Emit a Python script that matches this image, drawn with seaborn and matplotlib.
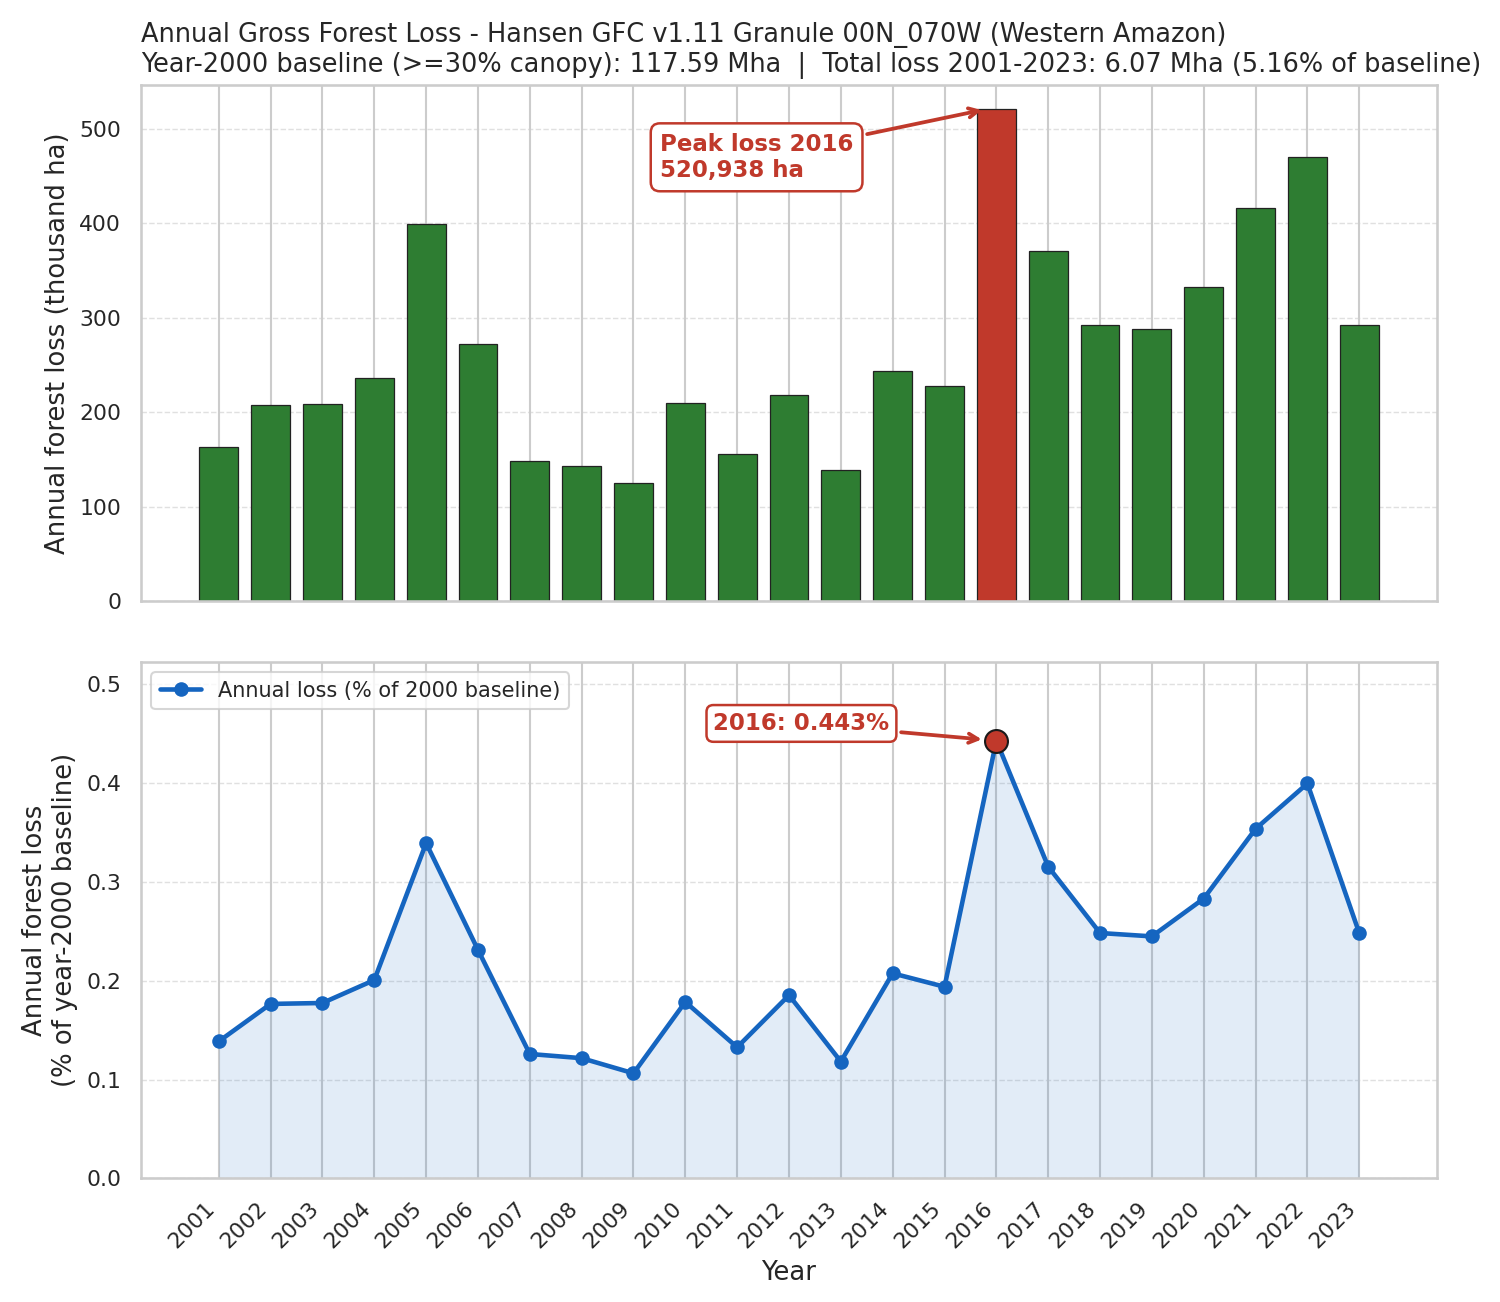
import numpy as np
import pandas as pd
import matplotlib
matplotlib.use("Agg")
import matplotlib.pyplot as plt
import seaborn as sns

# ---- data ----
years = list(range(2001, 2024))
loss_kha = [163, 207.6, 208.7, 236, 399, 272, 148, 143, 125, 210, 156, 218,
            139, 244, 228, 520.938, 371, 292, 288, 333, 416, 470, 292]
baseline_kha = 117590.0  # year-2000 baseline, thousand ha
peak_year = 2016
peak_loss_ha = 520938

pct = [v / baseline_kha * 100 for v in loss_kha]
df = pd.DataFrame({"year": years, "loss": loss_kha, "pct": pct})

GREEN = "#2e7d32"
RED = "#c0392b"
BLUE = "#1565c0"

sns.set_theme(style="whitegrid")
plt.rcParams["font.family"] = ["DejaVu Sans"]

fig, (ax1, ax2) = plt.subplots(2, 1, figsize=(10, 8.68), dpi=150, sharex=True)
fig.subplots_adjust(left=0.094, right=0.958, top=0.935, bottom=0.095, hspace=0.118)

# ---- top: bars ----
sns.barplot(data=df, x="year", y="loss", native_scale=True, width=0.75,
            color=GREEN, saturation=1, edgecolor="#222222", linewidth=0.6, ax=ax1)
for p in ax1.patches:
    cx = p.get_x() + p.get_width() / 2
    if abs(cx - peak_year) < 0.3:
        p.set_facecolor(RED)
ax1.set_ylim(0, max(loss_kha) * 1.05)
ax1.set_xlim(years[0] - 1.5, years[-1] + 1.5)
ax1.set_ylabel("Annual forest loss (thousand ha)", fontsize=12.4)
ax1.set_xlabel("")
ax1.grid(axis="y", linestyle="--", linewidth=0.7, alpha=0.6)
ax1.grid(axis="x", linestyle="-", linewidth=1.0)
ax1.set_axisbelow(True)
ax1.tick_params(axis="y", labelsize=10.5)
ax1.set_title("Annual Gross Forest Loss - Hansen GFC v1.11 Granule 00N_070W (Western Amazon)\n"
              "Year-2000 baseline (>=30% canopy): 117.59 Mha  |  Total loss 2001-2023: 6.07 Mha (5.16% of baseline)",
              loc="left", fontsize=12.3, color="#262626")
ax1.annotate(f"Peak loss {peak_year}\n{peak_loss_ha:,} ha",
             xy=(peak_year - 0.2, max(loss_kha)), xytext=(2009.51, 470),
             ha="left", va="center", fontsize=11, fontweight="bold", color=RED,
             bbox=dict(boxstyle="round,pad=0.4", fc="white", ec=RED, lw=1.2),
             arrowprops=dict(arrowstyle="->", color=RED, lw=1.8))

# ---- bottom: line ----
sns.lineplot(data=df, x="year", y="pct", marker="o", markersize=7, markeredgewidth=0,
             color=BLUE, linewidth=2.2, ax=ax2, label="Annual loss (% of 2000 baseline)")
ax2.fill_between(df["year"], df["pct"], color=BLUE, alpha=0.12, linewidth=0)
peak_pct = df.loc[df["year"] == peak_year, "pct"].iloc[0]
ax2.plot([peak_year], [peak_pct], "o", color=RED, markersize=11,
         markeredgecolor="#1a1a1a", markeredgewidth=1.0, zorder=5)
ax2.annotate(f"{peak_year}: {peak_pct:.3f}%", xy=(peak_year, peak_pct),
             xytext=(2012.24, 0.4605), ha="center", va="center",
             fontsize=11, fontweight="bold", color=RED,
             bbox=dict(boxstyle="round,pad=0.3", fc="white", ec=RED, lw=1.2),
             arrowprops=dict(arrowstyle="->", color=RED, lw=1.8, shrinkB=7))
ax2.set_ylim(0, max(pct) * 1.18)
ax2.set_ylabel("Annual forest loss\n(% of year-2000 baseline)", fontsize=12.4)
ax2.set_xlabel("Year", fontsize=12.4)
ax2.grid(axis="y", linestyle="--", linewidth=0.7, alpha=0.6)
ax2.grid(axis="x", linestyle="-", linewidth=1.0)
ax2.set_axisbelow(True)
ax2.set_xticks(years)
ax2.set_xticklabels([str(y) for y in years], rotation=45, ha="right", fontsize=10.5)
ax2.tick_params(axis="y", labelsize=10.5)
ax2.legend(loc="upper left", fontsize=10)
ax1.tick_params(axis="x", labelbottom=False)

fig.savefig("out.png", dpi=150)
